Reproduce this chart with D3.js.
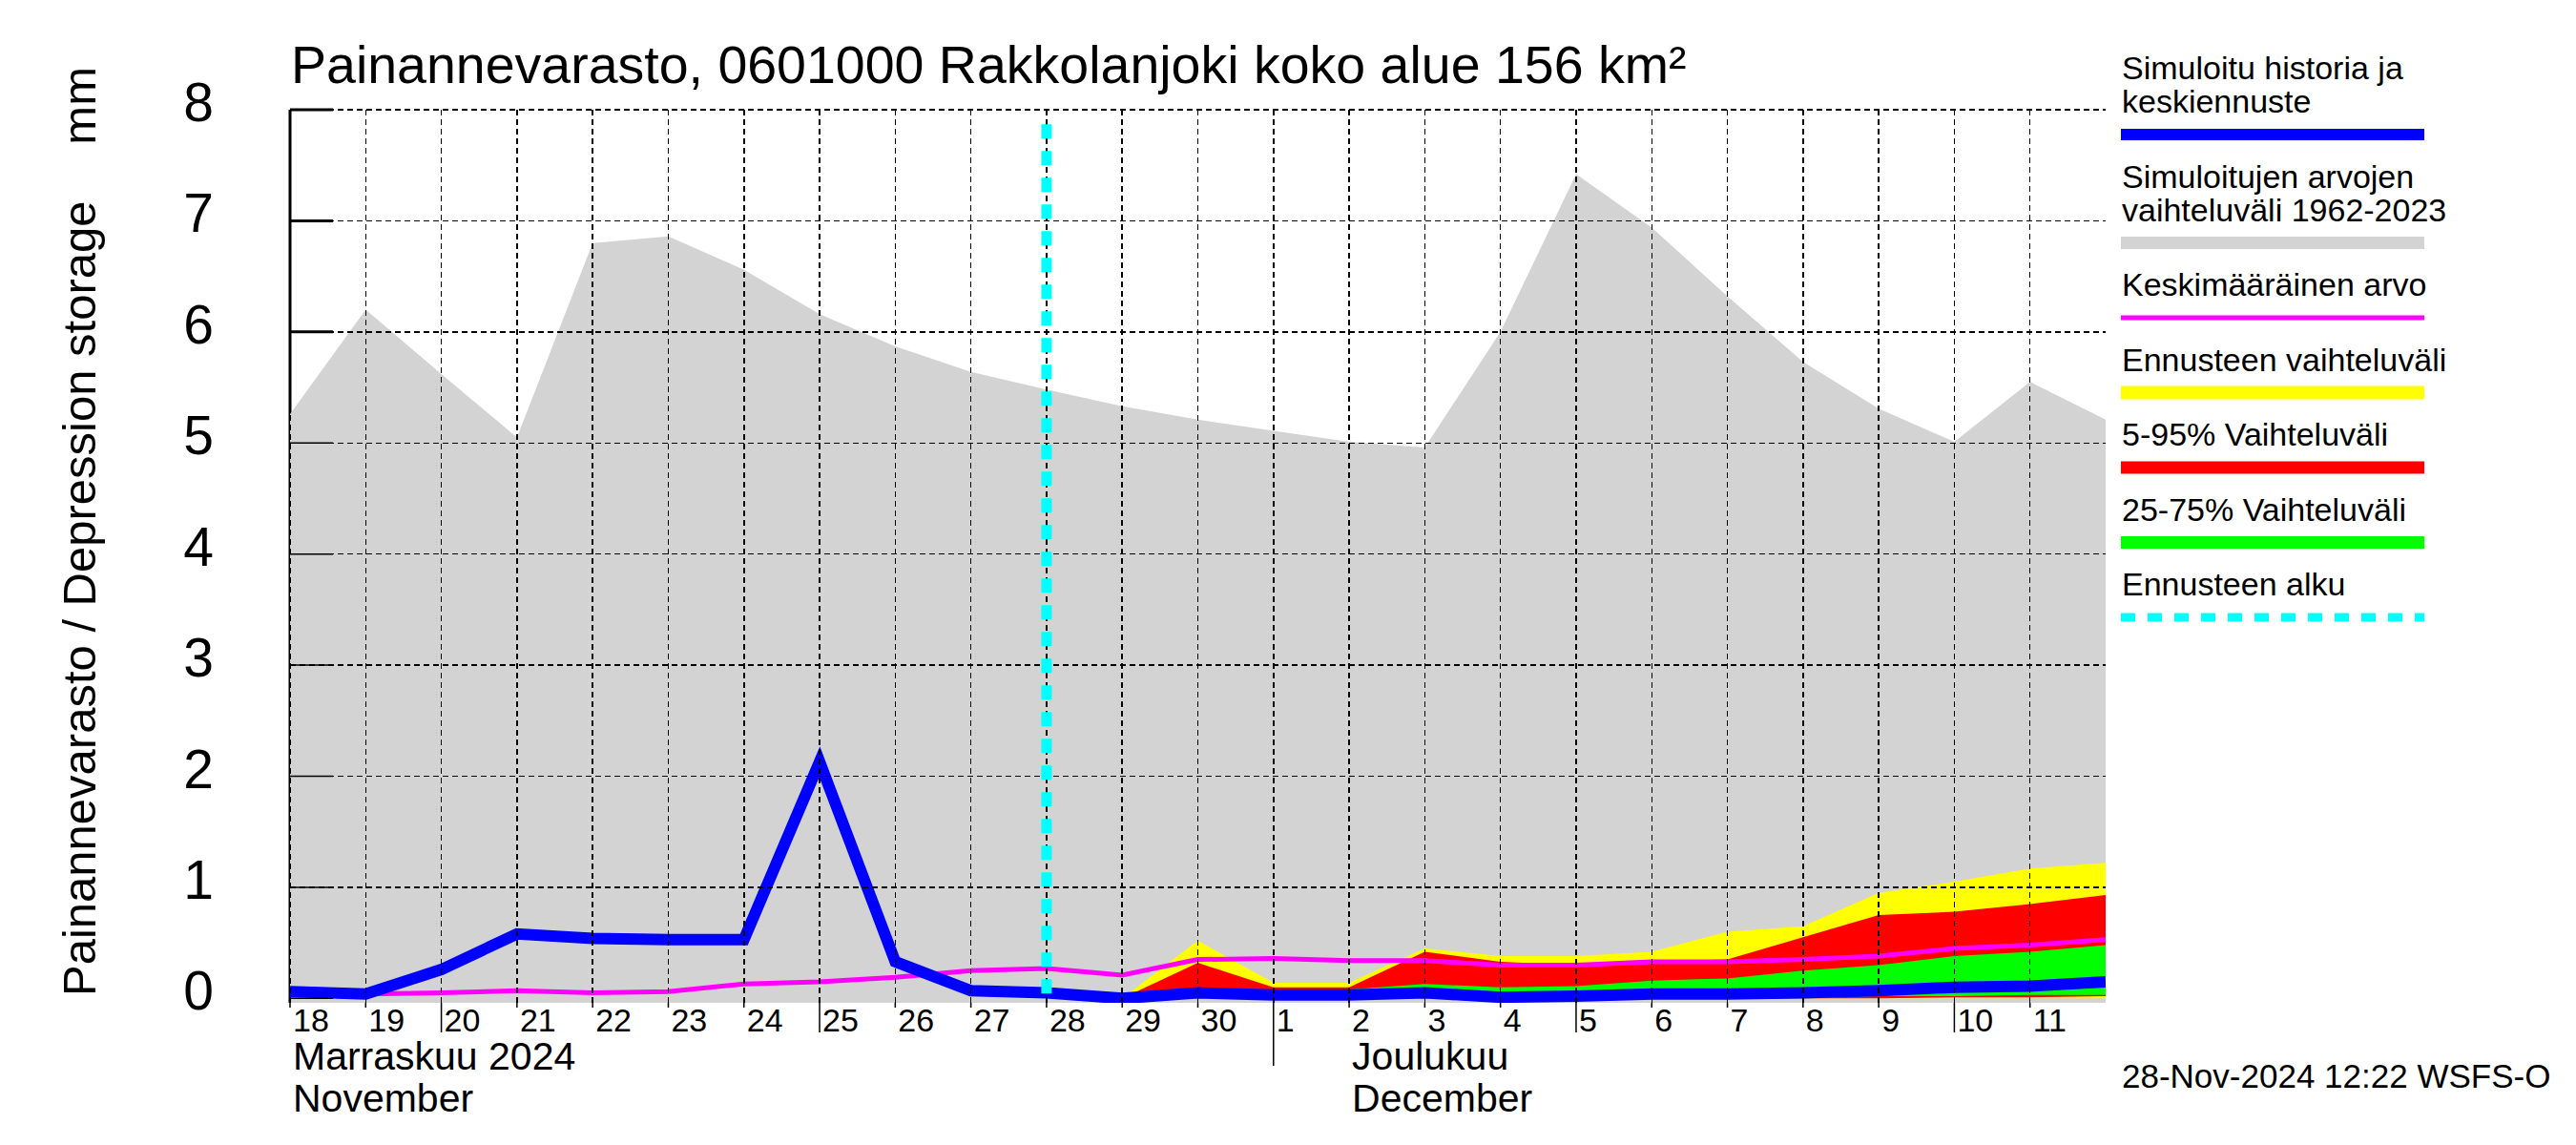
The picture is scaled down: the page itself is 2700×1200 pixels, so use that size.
<!DOCTYPE html>
<html lang="en">
<head>
    <meta charset="UTF-8">
    <title>Painannevarasto - Rakkolanjoki</title>
    <script src="https://d3js.org/d3.v7.min.js"></script>
    <style>
        body {
            margin: 0;
            padding: 0;
            background: white;
        }
        svg {
            display: block;
            font-family: "Liberation Sans", Arial, sans-serif;
        }
    </style>
</head>
<body>
    <svg id="chart" width="2700" height="1200"></svg>

    <script>
        // Daily values, 18 Nov 2024 00:00 ... 12 Dec 2024 00:00
        const startDate = new Date(Date.UTC(2024, 10, 18));
        const dayLabels = ["18", "19", "20", "21", "22", "23", "24", "25", "26", "27", "28", "29", "30",
            "1", "2", "3", "4", "5", "6", "7", "8", "9", "10", "11"];
        const longTickDays = [2, 7, 17, 22];
        const monthStartDay = 13;

        const histMax = [5.26, 6.2, 5.62, 5.05, 6.8, 6.86, 6.56, 6.16, 5.87, 5.64, 5.48, 5.33, 5.21, 5.11,
            5.01, 4.96, 6.0, 7.42, 6.94, 6.32, 5.73, 5.31, 5.01, 5.55, 5.21];
        const simulated = [0.06, 0.04, 0.26, 0.58, 0.54, 0.53, 0.53, 2.13, 0.33, 0.07, 0.05, 0.0, 0.05,
            0.03, 0.03, 0.05, 0.01, 0.02, 0.04, 0.04, 0.05, 0.07, 0.1, 0.11, 0.15];
        const meanValue = [0.05, 0.04, 0.05, 0.07, 0.05, 0.06, 0.13, 0.15, 0.19, 0.25, 0.27, 0.21, 0.35,
            0.36, 0.34, 0.34, 0.3, 0.3, 0.33, 0.33, 0.35, 0.38, 0.45, 0.48, 0.53];

        // forecast bands, from day index 10 (28 Nov 24:00) onwards
        const forecastStart = 10;
        const ensMin = [0.05, 0.0, 0, 0, 0, 0, 0, 0, 0, 0, 0, 0, 0, 0, 0];
        const ensMax = [0.05, 0.0, 0.52, 0.14, 0.14, 0.45, 0.38, 0.38, 0.42, 0.6, 0.65, 0.95, 1.05, 1.17, 1.22];
        const p05 = [0.05, 0.0, 0, 0, 0, 0, 0, 0, 0, 0, 0, 0, 0.01, 0.01, 0.02];
        const p95 = [0.05, 0.0, 0.32, 0.1, 0.1, 0.42, 0.33, 0.3, 0.33, 0.35, 0.55, 0.75, 0.78, 0.85, 0.93];
        const p25 = [0.05, 0.0, 0, 0, 0, 0, 0, 0, 0, 0, 0, 0.02, 0.02, 0.03, 0.03];
        const p75 = [0.05, 0.0, 0.05, 0.05, 0.08, 0.13, 0.1, 0.11, 0.16, 0.18, 0.25, 0.3, 0.38, 0.42, 0.48];

        const yTicks = [0, 1, 2, 3, 4, 5, 6, 7, 8];

        const legendItems = [
            { lines: ["Simuloitu historia ja", "keskiennuste"], color: "#0000ff", width: 12 },
            { lines: ["Simuloitujen arvojen", "vaihteluväli 1962-2023"], color: "#d3d3d3", width: 13 },
            { lines: ["Keskimääräinen arvo"], color: "#ff00ff", width: 5 },
            { lines: ["Ennusteen vaihteluväli"], color: "#ffff00", width: 14 },
            { lines: ["5-95% Vaihteluväli"], color: "#ff0000", width: 13 },
            { lines: ["25-75% Vaihteluväli"], color: "#00ff00", width: 13 },
            { lines: ["Ennusteen alku"], color: "#00ffff", width: 9, dash: "15,13" }
        ];

        const svg = d3.select("#chart");
        const plotLeft = 304, plotRight = 2207, plotTop = 115, plotBottom = 1051;

        const dayMs = 24 * 3600 * 1000;
        const dateOf = i => new Date(startDate.getTime() + i * dayMs);
        const dates = d3.range(histMax.length).map(dateOf);

        const x = d3.scaleUtc().domain([dates[0], dates[dates.length - 1]]).range([plotLeft, plotRight]);
        const y = d3.scaleLinear().domain([-0.04, 8]).range([plotBottom, plotTop]);

        svg.append("defs").append("clipPath").attr("id", "plot-clip")
            .append("rect").attr("x", plotLeft).attr("y", plotTop - 10)
            .attr("width", plotRight - plotLeft).attr("height", plotBottom - plotTop + 10);

        // axis line and ticks (under the gray area)
        svg.append("line")
            .attr("x1", plotLeft).attr("x2", plotLeft)
            .attr("y1", y(8)).attr("y2", plotBottom)
            .attr("stroke", "black").attr("stroke-width", 3);
        svg.selectAll(".ytick")
            .data(yTicks).enter().append("line")
            .attr("x1", plotLeft).attr("x2", plotLeft + 45)
            .attr("y1", d => y(d)).attr("y2", d => y(d))
            .attr("stroke", "black").attr("stroke-width", 3);

        const plot = svg.append("g").attr("clip-path", "url(#plot-clip)");

        // historical range
        plot.append("path")
            .datum(histMax)
            .attr("fill", "#d3d3d3")
            .attr("d", d3.area()
                .x((d, i) => x(dates[i]))
                .y0(plotBottom)
                .y1(d => y(d)));

        // forecast bands
        const fDates = dates.slice(forecastStart);
        function band(lo, hi, color) {
            plot.append("path")
                .datum(d3.zip(lo, hi))
                .attr("fill", color)
                .attr("d", d3.area()
                    .x((d, i) => x(fDates[i]))
                    .y0(d => y(d[0]))
                    .y1(d => y(d[1])));
        }
        band(ensMin, ensMax, "#ffff00");
        band(p05, p95, "#ff0000");
        band(p25, p75, "#00ff00");

        // grid
        const grid = svg.append("g")
            .attr("stroke", "black").attr("stroke-width", 1.5)
            .attr("stroke-dasharray", "6,4").attr("shape-rendering", "crispEdges");
        grid.selectAll(".hgrid")
            .data(yTicks.filter(d => d > 0)).enter().append("line")
            .attr("x1", plotLeft).attr("x2", plotRight)
            .attr("y1", d => y(d)).attr("y2", d => y(d));
        grid.selectAll(".vgrid")
            .data(dates.slice(0, dates.length - 1)).enter().append("line")
            .attr("x1", d => x(d)).attr("x2", d => x(d))
            .attr("y1", y(8)).attr("y2", plotBottom);

        // thin tick segments over gray
        svg.selectAll(".ytick2")
            .data(yTicks).enter().append("line")
            .attr("x1", plotLeft).attr("x2", plotLeft + 45)
            .attr("y1", d => y(d)).attr("y2", d => y(d))
            .attr("stroke", "black").attr("stroke-width", 1.5);

        // mean line
        plot.append("path")
            .datum(meanValue)
            .attr("fill", "none")
            .attr("stroke", "#ff00ff")
            .attr("stroke-width", 5)
            .attr("d", d3.line().x((d, i) => x(dates[i])).y(d => y(d)));

        // simulated history and mean forecast
        plot.append("path")
            .datum(simulated)
            .attr("fill", "none")
            .attr("stroke", "#0000ff")
            .attr("stroke-width", 12)
            .attr("stroke-linejoin", "miter")
            .attr("d", d3.line().x((d, i) => x(dates[i])).y(d => y(d)));

        // forecast start
        svg.append("line")
            .attr("x1", x(dates[forecastStart])).attr("x2", x(dates[forecastStart]))
            .attr("y1", y(7.87)).attr("y2", y(0))
            .attr("stroke", "#00ffff").attr("stroke-width", 11)
            .attr("stroke-dasharray", "15,13");

        // x ticks
        svg.selectAll(".xtick")
            .data(dayLabels).enter().append("line")
            .attr("x1", (d, i) => x(dates[i])).attr("x2", (d, i) => x(dates[i]))
            .attr("y1", plotBottom)
            .attr("y2", (d, i) => i === monthStartDay ? 1117 : longTickDays.includes(i) ? 1082 : 1056)
            .attr("stroke", "black").attr("stroke-width", 1.5);

        svg.selectAll(".xlabel")
            .data(dayLabels).enter().append("text")
            .attr("x", (d, i) => x(dates[i]) + 3)
            .attr("y", 1081)
            .attr("font-size", 34)
            .text(d => d);

        const months = [
            { day: 0, lines: ["Marraskuu 2024", "November"] },
            { day: 14, lines: ["Joulukuu", "December"] }
        ];
        months.forEach(m => {
            m.lines.forEach((t, j) => {
                svg.append("text")
                    .attr("x", x(dates[m.day]) + 3)
                    .attr("y", 1121 + j * 44)
                    .attr("font-size", 41)
                    .text(t);
            });
        });

        // y labels
        svg.selectAll(".ylabel")
            .data(yTicks).enter().append("text")
            .attr("x", 224)
            .attr("y", d => y(d) + 12)
            .attr("text-anchor", "end")
            .attr("font-size", 57)
            .text(d => d);

        svg.append("text")
            .attr("transform", "translate(100,1044) rotate(-90)")
            .attr("font-size", 49)
            .text("Painannevarasto / Depression storage");
        svg.append("text")
            .attr("transform", "translate(100,70) rotate(-90)")
            .attr("text-anchor", "end")
            .attr("font-size", 49)
            .text("mm");

        // title
        svg.append("text")
            .attr("x", 305).attr("y", 87)
            .attr("font-size", 55.5)
            .text("Painannevarasto, 0601000 Rakkolanjoki koko alue 156 km²");

        // legend
        let ly = 83;
        legendItems.forEach(item => {
            item.lines.forEach((t, j) => {
                svg.append("text")
                    .attr("x", 2224).attr("y", ly + j * 35)
                    .attr("font-size", 34)
                    .text(t);
            });
            const barY = ly + (item.lines.length - 1) * 35 + 23;
            svg.append("line")
                .attr("x1", 2223).attr("x2", 2541)
                .attr("y1", barY).attr("y2", barY)
                .attr("stroke", item.color)
                .attr("stroke-width", item.width)
                .attr("stroke-dasharray", item.dash || null);
            ly = barY + 55.5;
        });

        svg.append("text")
            .attr("x", 2224).attr("y", 1140)
            .attr("font-size", 35)
            .text("28-Nov-2024 12:22 WSFS-O");
    </script>
</body>
</html>
